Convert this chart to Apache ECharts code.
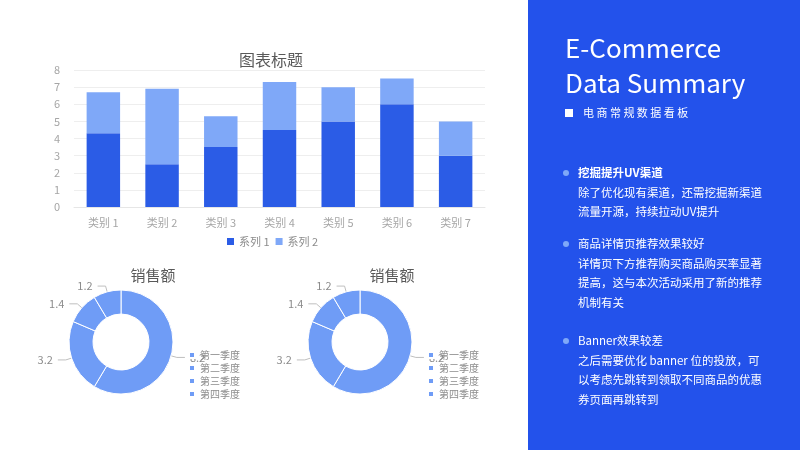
<!DOCTYPE html>
<html><head><meta charset="utf-8">
<script src="https://cdn.jsdelivr.net/npm/echarts@6/dist/echarts.min.js"></script>
<style>html,body{margin:0;padding:0;background:#fff}#c{width:800px;height:450px}</style>
</head><body><div id="c"></div>
<script>
const categories = ['类别 1','类别 2','类别 3','类别 4','类别 5','类别 6','类别 7'];
const series1 = [4.3, 2.5, 3.5, 4.5, 5, 6, 3];
const series2 = [2.4, 4.4, 1.8, 2.8, 2, 1.5, 2];
const quarters = ['第一季度','第二季度','第三季度','第四季度'];
const sales = [8.2, 3.2, 1.4, 1.2];
const notes = [
  {title:'挖掘提升UV渠道', bold:true, lines:['除了优化现有渠道，还需挖掘新渠道','流量开源，持续拉动UV提升'], y:173},
  {title:'商品详情页推荐效果较好', bold:false, lines:['详情页下方推荐购买商品购买率显著','提高，这与本次活动采用了新的推荐','机制有关'], y:244},
  {title:'Banner效果较差', bold:false, lines:['之后需要优化 banner 位的投放，可','以考虑先跳转到领取不同商品的优惠','券页面再跳转到'], y:341}
];
const F = '"Noto Sans CJK SC","Noto Sans",sans-serif';
const chart = echarts.init(document.getElementById('c'));
const graphic = [
  {type:'rect', shape:{x:528,y:0,width:272,height:450}, style:{fill:'#2352EB'}},
  {type:'text', style:{x:565,y:48,text:'E-Commerce',fill:'#fff',font:'26px '+F,textVerticalAlign:'middle'}},
  {type:'text', style:{x:565,y:83,text:'Data Summary',fill:'#fff',font:'26px '+F,textVerticalAlign:'middle'}},
  {type:'rect', shape:{x:565,y:109,width:8,height:8}, style:{fill:'#fff'}},
  {type:'text', style:{x:583,y:113,text:'电 商 常 规 数 据 看 板',fill:'#fff',font:'11px '+F,textVerticalAlign:'middle'}}
];
notes.forEach(n=>{
  graphic.push({type:'circle', shape:{cx:566,cy:n.y,r:3}, style:{fill:'#7FA8F8'}});
  graphic.push({type:'text', style:{x:578,y:n.y,text:n.title,fill:'#fff',font:(n.bold?'bold ':'')+'11.5px '+F,textVerticalAlign:'middle'}});
  n.lines.forEach((l,i)=>graphic.push({type:'text', style:{x:578,y:n.y+19.5*(i+1),text:l,fill:'#fff',font:'11.5px '+F,textVerticalAlign:'middle'}}));
});
function pie(cx){
  return {type:'pie', center:[cx,342], radius:[28,52], startAngle:90, clockwise:true,
    data:quarters.map((q,i)=>({name:q,value:sales[i]})),
    itemStyle:{color:'#6F9CF6',borderColor:'#fff',borderWidth:1},
    label:{show:true,formatter:'{c}',color:'#8c8c8c',fontSize:11,fontFamily:F},
    labelLine:{show:true,length:6,length2:8,lineStyle:{color:'#bfbfbf'}},
    emphasis:{disabled:true}};
}
chart.setOption({
  animation:false,
  graphic,
  title:[
    {text:'图表标题',left:266,top:47,textAlign:'center',textStyle:{fontSize:16,fontWeight:'normal',color:'#595959',fontFamily:F}},
    {text:'销售额',left:148,top:263,textAlign:'center',textStyle:{fontSize:15,fontWeight:'normal',color:'#595959',fontFamily:F}},
    {text:'销售额',left:387,top:263,textAlign:'center',textStyle:{fontSize:15,fontWeight:'normal',color:'#595959',fontFamily:F}}
  ],
  legend:[
    {data:['系列 1','系列 2'],left:222,top:231,itemWidth:7,itemHeight:7,itemGap:6,icon:'rect',textStyle:{color:'#8c8c8c',fontSize:11,fontFamily:F}},
    {data:quarters,orient:'vertical',left:183,top:345,itemWidth:6,itemHeight:6,itemGap:3,icon:'rect',textStyle:{color:'#8c8c8c',fontSize:10,fontFamily:F}},
    {data:quarters,orient:'vertical',left:422,top:345,itemWidth:6,itemHeight:6,itemGap:3,icon:'rect',textStyle:{color:'#8c8c8c',fontSize:10,fontFamily:F}}
  ],
  grid:{left:74,right:315,top:70,bottom:243},
  xAxis:{type:'category',data:categories,axisLine:{lineStyle:{color:'#e6e6e6'}},axisTick:{show:false},axisLabel:{color:'#a6a6a6',fontSize:11,fontFamily:F,margin:10}},
  yAxis:{type:'value',min:0,max:8,interval:1,axisLabel:{color:'#a6a6a6',fontSize:11,fontFamily:F,margin:14},splitLine:{lineStyle:{color:'#eeeeee'}},axisLine:{show:false}},
  series:[
    {name:'系列 1',type:'bar',stack:'a',data:series1,barWidth:'57%',itemStyle:{color:'#2B5CE6'}},
    {name:'系列 2',type:'bar',stack:'a',data:series2,itemStyle:{color:'#7FA8F8'}},
    pie(121), pie(360)
  ]
});
</script></body></html>
